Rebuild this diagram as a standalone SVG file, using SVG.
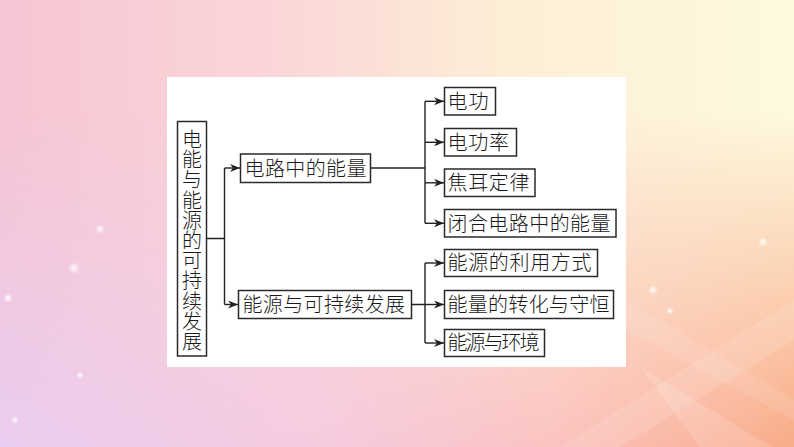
<svg xmlns="http://www.w3.org/2000/svg" width="794" height="447" viewBox="0 0 794 447">
<defs>
<linearGradient id="bgTop" x1="0" y1="0" x2="1" y2="0">
<stop offset="0" stop-color="#f7c5d4"/>
<stop offset="0.35" stop-color="#fbd6d8"/>
<stop offset="0.65" stop-color="#fdefd6"/>
<stop offset="1" stop-color="#fefadf"/>
</linearGradient>
<linearGradient id="bgBot" x1="0" y1="0" x2="1" y2="0">
<stop offset="0" stop-color="#e9cdef"/>
<stop offset="0.4" stop-color="#f6cbe0"/>
<stop offset="0.7" stop-color="#fbc3c0"/>
<stop offset="1" stop-color="#f9ab88"/>
</linearGradient>
<linearGradient id="fadeV" x1="0" y1="0" x2="0" y2="1">
<stop offset="0.25" stop-color="#fff" stop-opacity="0"/>
<stop offset="1" stop-color="#fff" stop-opacity="1"/>
</linearGradient>
<mask id="m">
<rect width="794" height="447" fill="url(#fadeV)"/>
</mask>
<radialGradient id="spark">
<stop offset="0" stop-color="#fff" stop-opacity="0.95"/>
<stop offset="1" stop-color="#fff" stop-opacity="0"/>
</radialGradient>
<marker id="arr" viewBox="0 0 10 8" refX="10" refY="4" markerWidth="10" markerHeight="8" markerUnits="userSpaceOnUse" orient="auto">
<path d="M0,0 L10,4 L0,8 L3,4 Z" fill="#222"/>
</marker>
<style>
.box{fill:#fff;stroke:#2a2a2a;stroke-width:1.5}
.t{font-family:"Noto Sans CJK SC","Noto Sans CJK JP",sans-serif;font-size:20px;font-weight:300;fill:#1a1a1a}
.v{writing-mode:vertical-rl;text-orientation:upright;letter-spacing:0.2px}
.ln{fill:none;stroke:#222;stroke-width:1.4}
.ar{fill:none;stroke:#222;stroke-width:1.4;marker-end:url(#arr)}
</style>
</defs>
<g id="background">
<rect width="794" height="447" fill="url(#bgTop)"/>
<rect width="794" height="447" fill="url(#bgBot)" mask="url(#m)"/>
<polygon points="560,447 794,300 794,340 620,447" fill="#fff" opacity="0.12"/>
<polygon points="640,367 794,460 794,447 700,447" fill="#fff" opacity="0.15"/>
<polygon points="626,300 794,400 794,420 626,330" fill="#fff" opacity="0.1"/>
<circle cx="100" cy="229" r="5" fill="url(#spark)"/>
<circle cx="74" cy="268" r="6" fill="url(#spark)"/>
<circle cx="8" cy="298" r="5" fill="url(#spark)"/>
<circle cx="653" cy="290" r="5" fill="url(#spark)"/>
<circle cx="670" cy="311" r="4" fill="url(#spark)"/>
<circle cx="763" cy="242" r="5" fill="url(#spark)"/>
<circle cx="80" cy="375" r="4" fill="url(#spark)"/>
<circle cx="15" cy="420" r="4" fill="url(#spark)"/>
</g>
<rect id="panel" x="167" y="77" width="459" height="290" fill="#fff"/>
<g id="connectors">
<path class="ln" d="M206.5,238.5 H224.5 M224.5,168 V304.5"/>
<path class="ar" d="M224.5,168 H240"/>
<path class="ar" d="M224.5,304.5 H238"/>
<path class="ln" d="M370.5,168 H425 M425,101.3 V223.3"/>
<path class="ar" d="M425,101.3 H444"/>
<path class="ar" d="M425,142.3 H444"/>
<path class="ar" d="M425,182.8 H444"/>
<path class="ar" d="M425,223.3 H444"/>
<path class="ln" d="M411.5,304.5 H425 M425,263 V343"/>
<path class="ar" d="M425,263 H444"/>
<path class="ar" d="M425,304.5 H444"/>
<path class="ar" d="M425,343 H444"/>
</g>
<g id="root">
<rect class="box" x="177.5" y="121.5" width="29" height="234.5"/>
<text class="t v" x="192" y="129.5">电能与能源的可持续发展</text>
</g>
<g id="n-circuit">
<rect class="box" x="240.5" y="154" width="130" height="28.5"/>
<text class="t" x="244.5" y="175.5" textLength="122">电路中的能量</text>
</g>
<g id="n-energy">
<rect class="box" x="238.5" y="290.5" width="173" height="28"/>
<text class="t" x="242.5" y="311.8" textLength="162.5">能源与可持续发展</text>
</g>
<g id="n-c1">
<rect class="box" x="444.5" y="87.5" width="51" height="27.5"/>
<text class="t" x="447.5" y="108.6" textLength="41">电功</text>
</g>
<g id="n-c2">
<rect class="box" x="444.5" y="128.5" width="72" height="27.5"/>
<text class="t" x="447.5" y="149.6" textLength="61.5">电功率</text>
</g>
<g id="n-c3">
<rect class="box" x="444.5" y="169" width="90.5" height="27.5"/>
<text class="t" x="447.5" y="190.1" textLength="82">焦耳定律</text>
</g>
<g id="n-c4">
<rect class="box" x="444.5" y="209.5" width="171.5" height="27.5"/>
<text class="t" x="447.5" y="230.6" textLength="163">闭合电路中的能量</text>
</g>
<g id="n-d1">
<rect class="box" x="444.5" y="249.5" width="153" height="27"/>
<text class="t" x="447.5" y="270.4" textLength="144">能源的利用方式</text>
</g>
<g id="n-d2">
<rect class="box" x="444.5" y="290.5" width="169" height="28"/>
<text class="t" x="447.5" y="311.8" textLength="162">能量的转化与守恒</text>
</g>
<g id="n-d3">
<rect class="box" x="444.5" y="329.5" width="100" height="27"/>
<text class="t" x="447.5" y="350.4" textLength="92">能源与环境</text>
</g>
</svg>
